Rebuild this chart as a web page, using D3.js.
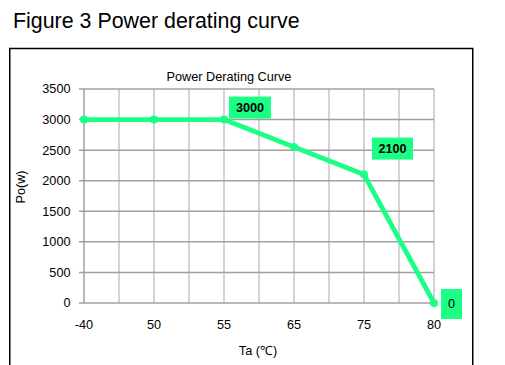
<!DOCTYPE html>
<html><head><meta charset="utf-8">
<script src="https://cdn.jsdelivr.net/npm/d3@7"></script>
<style>body{margin:0;background:#fff;} svg{display:block;}</style>
</head><body>
<svg id="c" width="505" height="365"></svg>
<script>
const categories = ["-40", "50", "55", "65", "75", "80"];
const values = [3000, 3000, 3000, 2550, 2100, 0];
const yTicks = [0, 500, 1000, 1500, 2000, 2500, 3000, 3500];
const labeled = [{i: 2, text: "3000", bold: true}, {i: 4, text: "2100", bold: true}, {i: 5, text: "0", bold: false}];

const svg = d3.select("#c");
const font = "'Liberation Sans', Arial, sans-serif";
const green = "#1aff84";
const fs = 12.7;

svg.append("text").attr("x", 13).attr("y", 28).attr("font-family", font)
  .attr("font-size", 21.4).attr("fill", "#000").text("Figure 3 Power derating curve");

svg.append("rect").attr("x", 9.75).attr("y", 48.5).attr("width", 463).attr("height", 330)
  .attr("fill", "none").attr("stroke", "#000").attr("stroke-width", 1.5);

const x = d3.scaleLinear().domain([0, categories.length - 1]).range([84, 434]);
const y = d3.scaleLinear().domain([0, 3500]).range([303, 89]);

svg.append("text").attr("x", 229).attr("y", 81).attr("text-anchor", "middle")
  .attr("font-family", font).attr("font-size", fs).text("Power Derating Curve");

// vertical gridlines (including half steps)
const vIdx = d3.range(0, categories.length - 1 + 0.001, 0.5);
svg.append("g").selectAll("line").data(vIdx).join("line")
  .attr("x1", d => x(d)).attr("x2", d => x(d)).attr("y1", y(3500)).attr("y2", y(0))
  .attr("stroke", d => d === 0 ? "#a0a0a0" : "#c4c4c4").attr("stroke-width", 1.5);

// horizontal gridlines
svg.append("g").selectAll("line").data(yTicks).join("line")
  .attr("x1", x(0) - 5).attr("x2", x(categories.length - 1)).attr("y1", d => y(d)).attr("y2", d => y(d))
  .attr("stroke", "#a0a0a0").attr("stroke-width", 1.5);

// y tick labels
svg.append("g").selectAll("text").data(yTicks).join("text")
  .attr("x", 70.5).attr("y", d => y(d)).attr("dy", "0.35em").attr("text-anchor", "end")
  .attr("font-family", font).attr("font-size", fs).text(d => d);

// x tick labels
svg.append("g").selectAll("text").data(categories).join("text")
  .attr("x", (d, i) => x(i)).attr("y", 325).attr("dy", "0.35em").attr("text-anchor", "middle")
  .attr("font-family", font).attr("font-size", fs).text(d => d);

svg.append("text").attr("x", 258).attr("y", 351).attr("dy", "0.35em").attr("text-anchor", "middle")
  .attr("font-family", font).attr("font-size", fs).text("Ta (℃)");

svg.append("text").attr("transform", "translate(21,187) rotate(-90)").attr("dy", "0.35em")
  .attr("text-anchor", "middle").attr("font-family", font).attr("font-size", fs).text("Po(w)");

// line
const line = d3.line().x((d, i) => x(i)).y(d => y(d));
svg.append("path").datum(values).attr("d", line).attr("fill", "none")
  .attr("stroke", green).attr("stroke-width", 4.8).attr("stroke-linejoin", "round");
svg.append("g").selectAll("circle").data(values).join("circle")
  .attr("cx", (d, i) => x(i)).attr("cy", d => y(d)).attr("r", 4).attr("fill", green);

// data labels
const boxes = [
  {w: 42, h: 22, dx: 5, dy: -23},
  {w: 41, h: 22, dx: 8, dy: -37},
  {w: 21, h: 30, dx: 7, dy: -14}
];
labeled.forEach((l, k) => {
  const cx = x(l.i), cy = y(values[l.i]);
  const b = boxes[k];
  svg.append("rect").attr("x", cx + b.dx).attr("y", cy + b.dy).attr("width", b.w).attr("height", b.h).attr("fill", green);
  svg.append("text").attr("x", cx + b.dx + b.w / 2).attr("y", cy + b.dy + b.h / 2).attr("dy", "0.35em")
    .attr("text-anchor", "middle").attr("font-family", font).attr("font-size", fs)
    .attr("font-weight", l.bold ? "bold" : "normal").text(l.text);
});
</script>
</body></html>
